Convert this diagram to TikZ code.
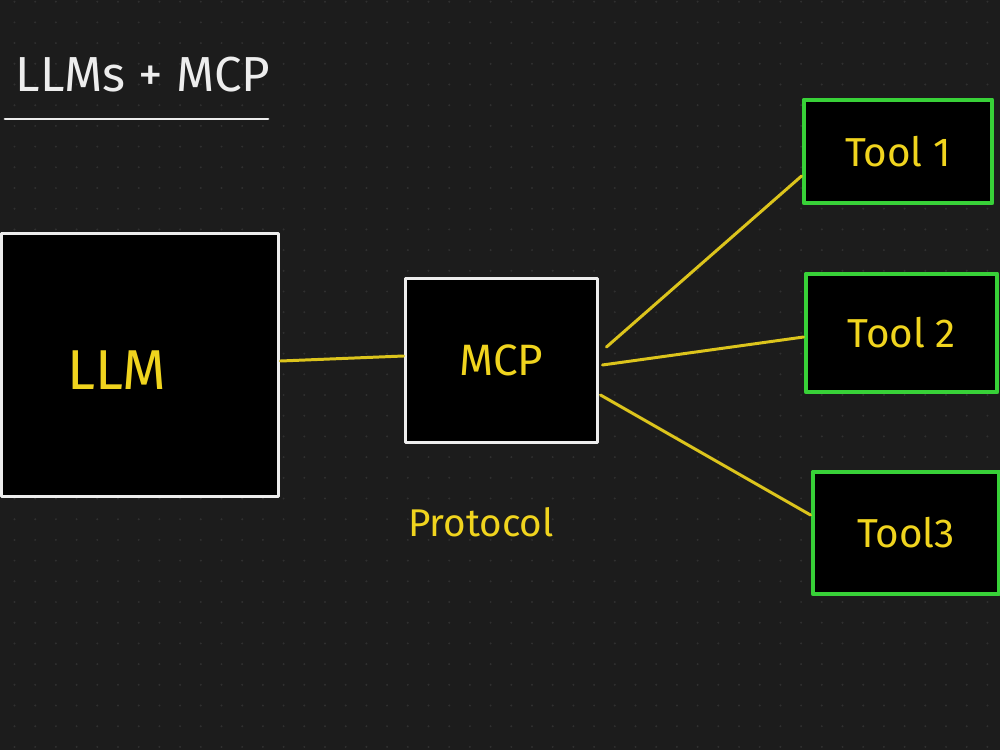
\documentclass[tikz,border=0pt]{standalone}
\usepackage{fontspec}
\setmainfont{Fira Sans}
\usepackage{tikz}
\usetikzlibrary{calc}

\definecolor{boardbg}{HTML}{1C1C1C}
\definecolor{boarddot}{HTML}{303030}
\definecolor{penyellow}{HTML}{F0D41E}
\definecolor{wireyellow}{HTML}{DCC41C}
\definecolor{pengreen}{HTML}{38D138}
\definecolor{penwhite}{HTML}{EDEDED}

\begin{document}
\begin{tikzpicture}[x=0.02cm, y=-0.02cm, line cap = round, line join = round]
\tikzstyle{llmbox}=[draw=penwhite, fill=black, line width=1.7pt, minimum width=5.56cm, minimum height=5.28cm]
\tikzstyle{mcpbox}=[draw=penwhite, fill=black, line width=1.7pt, minimum width=3.86cm, minimum height=3.30cm, text=penyellow, font=\fontsize{25}{30}\selectfont]
\tikzstyle{toolbox}=[draw=pengreen, fill=black, line width=2.8pt, minimum width=3.76cm, text=penyellow, font=\fontsize{23}{28}\selectfont]
\tikzstyle{wire}=[wireyellow, line width=1.7pt]

\useasboundingbox (0,0) rectangle (1000,750);
\fill[boardbg] (0,0) rectangle (1000,750);
\begin{scope}
\clip (0,0) rectangle (1000,750);
\foreach \i in {0,...,48}
  \foreach \j in {0,...,36}
    \fill[boarddot] ({14.5+20.7*\i},{1.7+20.7*\j}) circle (0.022cm);

\node[text=penwhite, font=\fontsize{28}{32}\selectfont] (title) at (143,75) {LLMs + MCP};
\draw[penwhite, line width=1.7pt] (5,119) -- (268,119);

\node[llmbox, label={[text=penyellow, font=\fontsize{32}{36}\selectfont, xshift=-0.46cm, yshift=-0.1cm]center:LLM}] (llm) at (140,365) {};
\node[mcpbox] (mcp) at (501.5,360.5) {MCP};
\node[toolbox, minimum height=2.06cm] (tool1) at (898,151.5) {Tool 1};
\node[toolbox, minimum width=3.82cm, minimum height=2.36cm] (tool2) at (901.5,333) {Tool 2};
\node[toolbox, minimum width=3.72cm, minimum height=2.44cm] (tool3) at (906,533) {Tool3};
\node[text=penyellow, font=\fontsize{22}{26}\selectfont] (protocol) at (481,522) {Protocol};

\draw[wire] ([yshift=0.08cm]llm.east) -- ([yshift=0.09cm]mcp.west);
\draw[wire] ([xshift=0.14cm, yshift=0.27cm]mcp.east) -- ([yshift=-0.49cm]tool1.west);
\draw[wire] ([xshift=0.06cm, yshift=-0.09cm]mcp.east) -- ([yshift=-0.08cm]tool2.west);
\draw[wire] ([xshift=0.02cm, yshift=-0.69cm]mcp.east) -- ([yshift=0.36cm]tool3.west);
\end{scope}
\end{tikzpicture}
\end{document}
